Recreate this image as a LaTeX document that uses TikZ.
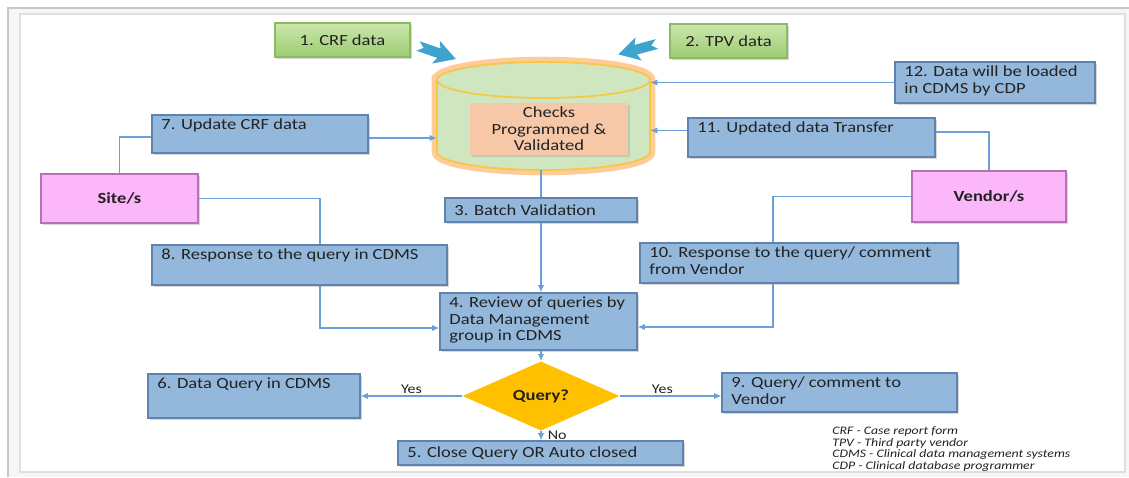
\documentclass[tikz,border=0pt]{standalone}
\usepackage{fontspec}
\setmainfont{Carlito}[FakeStretch=1.2]
\usetikzlibrary{shapes.geometric,fit,calc,shadows,arrows.meta}
\definecolor{bfill}{HTML}{94B8DB}
\definecolor{bborder}{HTML}{5F82AE}
\definecolor{txt}{HTML}{222222}
\definecolor{gtop}{HTML}{CBE7AC}
\definecolor{gbot}{HTML}{9DCB72}
\definecolor{gborder}{HTML}{8CBA62}
\definecolor{mfill}{HTML}{FCB6FA}
\definecolor{mborder}{HTML}{B474B2}
\definecolor{qyel}{HTML}{FFC000}
\definecolor{lblue}{HTML}{6A9FD8}
\definecolor{cylfill}{HTML}{D0E6C0}
\definecolor{cylline}{HTML}{F6C844}
\definecolor{chkfill}{HTML}{F7C8A8}
\definecolor{barrow}{HTML}{3FA3CF}
\tikzset{
  x=0.02cm, y=0.02cm,
  every node/.style={font=\fontsize{8.8}{9.3}\selectfont, text=txt},
  bbox/.style={draw=bborder, fill=bfill, line width=0.9pt, inner sep=0pt,
    drop shadow={opacity=0.3, shadow xshift=0.9pt, shadow yshift=-0.9pt}},
  gbox/.style={draw=gborder, top color=gtop, bottom color=gbot, line width=0.8pt, inner sep=0pt,
    drop shadow={opacity=0.3, shadow xshift=0.9pt, shadow yshift=-0.9pt}},
  mbox/.style={draw=mborder, fill=mfill, line width=1pt, inner sep=0pt,
    drop shadow={opacity=0.3, shadow xshift=0.9pt, shadow yshift=-0.9pt}},
  tl/.style={anchor=north west, inner sep=0pt, align=left, xshift=5.6pt, yshift=-2.6pt},
  ml/.style={anchor=west, inner sep=0pt, xshift=5.6pt},
  ctr/.style={anchor=center, inner sep=0pt, align=center},
  conn/.style={draw=lblue, line width=0.7pt},
  arr/.style={conn, -{Latex[length=4pt,width=3.6pt]}},
  yn/.style={font=\fontsize{7.6}{8}\selectfont, inner sep=1pt},
}
\begin{document}
\begin{tikzpicture}
\useasboundingbox (0,0) rectangle (1129,-477);
% frame
\fill[gray!7] (8,-8) rectangle (1129,-477);
\draw[gray!45, line width=1.2pt] (8,-477) -- (8,-8) -- (1129,-8);
\fill[white] (20,-14) rectangle (1125,-472);
\draw[gray!25, line width=1pt] (20,-14) rectangle (1125,-472);

% green input boxes
\node[gbox, fit={(275,-23)(410,-57)}, label={[ctr]center:1. CRF data}] (g1) {};
\node[gbox, fit={(670,-24)(787,-58)}, label={[ctr]center:2. TPV data}] (g2) {};

% block arrows
\begin{scope}[shift={(418,-46)}, rotate=-19]
  \fill[barrow] (0,5) -- (22,5) -- (19,12) -- (40,0) -- (19,-12) -- (22,-5) -- (0,-5) -- (6,0) -- cycle;
\end{scope}
\begin{scope}[shift={(657,-44)}, rotate=195]
  \fill[barrow] (0,5) -- (22,5) -- (19,12) -- (40,0) -- (19,-12) -- (22,-5) -- (0,-5) -- (6,0) -- cycle;
\end{scope}

% cylinder
\path[preaction={draw=orange!80, line width=6pt, opacity=0.5}, fill=cylfill, draw=cylline, line width=1pt]
  (437,-80) -- (437,-152) arc[start angle=180, end angle=360, x radius=106.5, y radius=18]
  -- (650,-80) arc[start angle=0, end angle=180, x radius=106.5, y radius=18] -- cycle;
\draw[cylline, line width=1pt] (437,-80) arc[start angle=180, end angle=360, x radius=106.5, y radius=18];
\node[fit={(437,-62)(650,-170)}, inner sep=0pt] (cyl) {};
\node[fit={(470,-103)(628,-155)}, fill=chkfill, inner sep=0pt,
  drop shadow={opacity=0.25, shadow xshift=0.9pt, shadow yshift=-0.9pt},
  label={[ctr]center:{Checks\\Programmed \&\\Validated}}] (chk) {};

% blue process boxes
\node[bbox, fit={(895,-62)(1095,-103)}, label={[tl]north west:{12. Data will be loaded\\in CDMS by CDP}}] (b12) {};
\node[bbox, fit={(152,-115)(368,-153)}, label={[tl]north west:{7. Update CRF data}}] (b7) {};
\node[bbox, fit={(688,-118)(935,-157)}, label={[tl]north west:{11. Updated data Transfer}}] (b11) {};
\node[bbox, fit={(445,-198)(637,-222)}, label={[ml]west:{3. Batch Validation}}] (b3) {};
\node[bbox, fit={(152,-245)(447,-285)}, label={[tl]north west:{8. Response to the query in CDMS}}] (b8) {};
\node[bbox, fit={(640,-243)(958,-283)}, label={[tl]north west:{10. Response to the query/ comment\\from Vendor}}] (b10) {};
\node[bbox, fit={(440,-293)(637,-350)}, label={[tl]north west:{4. Review of queries by\\Data Management\\group in CDMS}}] (b4) {};
\node[bbox, fit={(148,-374)(360,-418)}, label={[tl]north west:{6. Data Query in CDMS}}] (b6) {};
\node[bbox, fit={(722,-373)(957,-412)}, label={[tl]north west:{9. Query/ comment to\\Vendor}}] (b9) {};
\node[bbox, fit={(398,-441)(683,-465)}, label={[ml]west:{5. Close Query OR Auto closed}}] (b5) {};

% actors
\node[mbox, fit={(41,-174)(198,-223)}, label={[ctr]center:\textbf{Site/s}}] (site) {};
\node[mbox, fit={(912,-171)(1066,-222)}, label={[ctr]center:\textbf{Vendor/s}}] (vendor) {};

% decision
\node[diamond, fill=qyel, inner sep=0pt, minimum width=3.14cm, minimum height=0.96cm, font=\fontsize{8.8}{9.3}\selectfont\bfseries] (q) at (541,-396) {Query?};

% legend
\node[anchor=north west, align=left, inner sep=0pt, font=\fontsize{6.55}{6.7}\selectfont\itshape] (leg) at (832,-426)
  {CRF - Case report form\\TPV - Third party vendor\\CDMS - Clinical data management systems\\CDP - Clinical database programmer};

% connectors
\draw[arr] (b12.west) -- (b12.west -| cyl.east);
\draw[arr] ([yshift=-0.08cm]b7.east) -- ([yshift=-0.08cm]b7.east -| cyl.west);
\draw[arr] ([yshift=0.14cm]b11.west) -- ([yshift=0.14cm]b11.west -| cyl.east);
\draw[conn] (site.north) |- ([yshift=-0.06cm]b7.west);
\draw[conn] (vendor.north) |- ([yshift=0.11cm]b11.east);
\draw[conn] (site.east) -| ([xshift=0.41cm]b8.north);
\draw[arr] ([xshift=0.41cm]b8.south) |- ([yshift=-0.13cm]b4.west);
\draw[conn] (vendor.west) -| ([xshift=-0.52cm]b10.north);
\draw[arr] ([xshift=-0.52cm]b10.south) |- ([yshift=-0.11cm]b4.east);
\draw[conn] (b3.north |- cyl.south) -- (b3.north);
\draw[arr] (b3.south) -- (b3.south |- b4.north);
\draw[arr] (q.north |- b4.south) -- (q.north);
\draw[arr] (q.west) -- node[yn, above, pos=0.5] {Yes} (b6.east |- q.west);
\draw[arr] (q.east) -- node[yn, above, pos=0.42] {Yes} (b9.west |- q.east);
\draw[arr] (q.south) -- node[yn, right, pos=0.45, xshift=2.5pt] {No} (q.south |- b5.north);
\end{tikzpicture}
\end{document}
